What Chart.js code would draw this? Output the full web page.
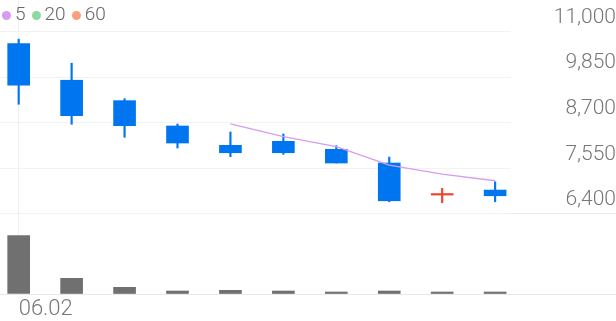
<!DOCTYPE html>
<html>
<head>
<meta charset="utf-8">
<script src="https://cdn.jsdelivr.net/npm/chart.js@4.4.1/dist/chart.umd.min.js"></script>
<style>
  html, body { margin: 0; padding: 0; background: #fff; }
  #wrap { width: 616px; height: 321px; position: relative; }
  #legend {
    position: absolute; left: 2px; top: 3px; display: flex; align-items: center;
    font: 300 19px Roboto, sans-serif; color: #666; line-height: 22px;
  }
  #legend .item { display: flex; align-items: center; margin-right: 6px; }
  #legend .dot { width: 9px; height: 9px; border-radius: 50%; margin-right: 4px; margin-top: 2px; }
</style>
</head>
<body>
<div id="wrap"><canvas id="chart"></canvas><div id="legend"></div></div>
<script>
// daily candles, oldest first
const dates = ["06.02"];
const opens = [10692, 9769, 9255, 8617, 8130, 8231, 8029, 7684, 6877, 7003];
const closes = [9643, 8877, 8624, 8188, 7943, 7943, 7684, 6733, 6877, 6859];
const highs = [10803, 10198, 9305, 8667, 8465, 8415, 8120, 7835, 7045, 7212];
const lows = [9164, 8660, 8332, 8062, 7843, 7903, 7684, 6708, 6683, 6708];
const volumes = [1750, 470, 200, 90, 110, 90, 60, 90, 60, 60];
const ma5 = [null, null, null, null, 8667, 8347, 8095, 7633, 7406, 7237];
const ma20 = [null, null, null, null, null, null, null, null, null, null];
const ma60 = [null, null, null, null, null, null, null, null, null, null];
const maNames = ["5", "20", "60"];
const maColors = ["#d79bf0", "#8ed99f", "#f8a07c"];
const priceTicks = [6400, 7550, 8700, 9850, 11000];
const volTicks = [0, 2400];
const xTicks = [0];

const UP = "#f0412f";
const DOWN = "#0075f0";
const candleColor = opens.map((o, i) => (closes[i] >= o ? UP : DOWN));
const xy = (arr) => arr.map((v, i) => ({ x: i, y: v }));

Chart.defaults.font.family = "Roboto";
Chart.defaults.color = "#777";

const legendEl = document.getElementById("legend");
maNames.forEach((name, i) => {
  const item = document.createElement("span");
  item.className = "item";
  item.innerHTML = `<span class="dot" style="background:${maColors[i]}"></span>${name}`;
  legendEl.appendChild(item);
});

// keep the plot area at the full 0..511 x 0..294 box
const noPadding = (axis) => {
  axis.paddingTop = 0;
  axis.paddingBottom = 0;
  axis.paddingLeft = 0;
  axis.paddingRight = 0;
};

const maLine = (label, data, color) => ({
  type: "line",
  label,
  data: xy(data),
  borderColor: color,
  backgroundColor: color,
  borderWidth: 1.3,
  pointRadius: 0,
  yAxisID: "price",
});

new Chart(document.getElementById("chart"), {
  type: "bar",
  data: {
    datasets: [
      maLine(maNames[0], ma5, maColors[0]),
      maLine(maNames[1], ma20, maColors[1]),
      maLine(maNames[2], ma60, maColors[2]),
      {
        label: "wick",
        data: highs.map((h, i) => ({ x: i, y: [lows[i], h] })),
        backgroundColor: candleColor,
        barThickness: 1.5,
        grouped: false,
        yAxisID: "price",
      },
      {
        label: "body",
        data: opens.map((o, i) => ({ x: i, y: [o, closes[i]] })),
        backgroundColor: candleColor,
        barThickness: 22,
        minBarLength: 1.5,
        grouped: false,
        yAxisID: "price",
      },
      {
        label: "volume",
        data: xy(volumes),
        backgroundColor: "#707070",
        barThickness: 22,
        grouped: false,
        yAxisID: "vol",
      },
    ],
  },
  options: {
    responsive: true,
    maintainAspectRatio: false,
    animation: false,
    layout: { padding: 0, autoPadding: false },
    plugins: {
      tooltip: { enabled: false },
      legend: { display: false },
    },
    scales: {
      x: {
        type: "linear",
        offset: false,
        min: -0.353,
        max: 9.3,
        afterBuildTicks: (axis) => {
          axis.ticks = xTicks.map((v) => ({ value: v }));
        },
        afterFit: (axis) => {
          axis.height = 27;
          noPadding(axis);
        },
        grid: { color: "#f0f0f0", drawTicks: false, offset: false },
        border: { display: false },
        ticks: {
          align: "start",
          padding: 2,
          maxRotation: 0,
          autoSkip: false,
          font: { size: 22, weight: 300 },
          callback: (v) => dates[v] ?? "",
        },
      },
      // volume pane: 0..2400 fills the bottom 80px of the 294px plot
      vol: {
        type: "linear",
        position: "right",
        weight: 0,
        min: 0,
        max: 8820,
        afterBuildTicks: (axis) => {
          axis.ticks = volTicks.map((v) => ({ value: v }));
        },
        afterFit: (axis) => {
          axis.width = 0;
          noPadding(axis);
        },
        grid: { color: "#e8e8e8", drawTicks: true, tickLength: 105 },
        border: { display: false },
        ticks: { display: false },
      },
      price: {
        type: "linear",
        position: "right",
        weight: 1,
        min: 4385,
        max: 11790,
        afterBuildTicks: (axis) => {
          axis.ticks = priceTicks.map((v) => ({ value: v }));
        },
        afterFit: (axis) => {
          axis.width = 105;
          noPadding(axis);
        },
        grid: { color: "#f2f2f2", drawTicks: false },
        border: { display: false },
        ticks: {
          crossAlign: "far",
          autoSkip: false,
          padding: 36,
          labelOffset: -14,
          font: { size: 21, weight: 300 },
          callback: (v) => v.toLocaleString("en-US"),
        },
      },
    },
  },
});
</script>
</body>
</html>
